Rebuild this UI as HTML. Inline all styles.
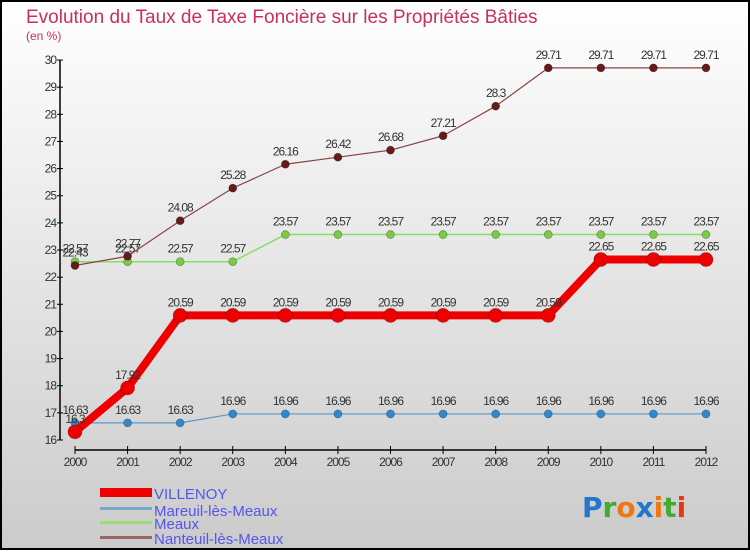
<!DOCTYPE html>
<html><head><meta charset="utf-8"><style>
body{margin:0;width:750px;height:550px;overflow:hidden;font-family:"Liberation Sans",sans-serif}
</style></head><body>
<svg width="750" height="550" xmlns="http://www.w3.org/2000/svg">
<defs><linearGradient id="bg" x1="0" y1="0" x2="0" y2="1"><stop offset="0" stop-color="#ffffff"/><stop offset="1" stop-color="#cbcbcb"/></linearGradient></defs>
<rect x="1" y="1" width="748" height="548" fill="url(#bg)" stroke="#000" stroke-width="2"/>
<text x="26" y="23" font-size="19" fill="#c8305a">Evolution du Taux de Taxe Foncière sur les Propriétés Bâties</text>
<text x="26" y="40" font-size="12" fill="#c8305a">(en %)</text>
<g id="axes"></g>
<g id="series"></g>
<g>
<rect x="100" y="488" width="52" height="9" fill="#ee0000"/>
<text x="154" y="499" font-size="15" fill="#5555ee">VILLENOY</text>
<rect x="100" y="507" width="52" height="3" fill="#7aa8cc"/>
<text x="154" y="516" font-size="15" fill="#5555ee">Mareuil-lès-Meaux</text>
<rect x="100" y="521" width="52" height="3" fill="#99dd77"/>
<text x="154" y="529" font-size="15" fill="#5555ee">Meaux</text>
<rect x="100" y="536" width="52" height="3" fill="#996666"/>
<text x="154" y="544" font-size="15" fill="#5555ee">Nanteuil-lès-Meaux</text>
</g>
<g font-size="28" font-weight="bold" font-family="'DejaVu Sans',sans-serif">
<text x="582" y="517"><tspan fill="#2277cc">P</tspan><tspan fill="#44aa33">r</tspan><tspan fill="#ee7711">o</tspan><tspan fill="#2277cc">x</tspan><tspan fill="#ee7711">i</tspan><tspan fill="#44aa33">t</tspan><tspan fill="#ee3311">i</tspan></text>
</g>
</svg>
<script>
const years=[2000,2001,2002,2003,2004,2005,2006,2007,2008,2009,2010,2011,2012];
const villenoy=[16.3,17.92,20.59,20.59,20.59,20.59,20.59,20.59,20.59,20.59,22.65,22.65,22.65];
const mareuil=[16.63,16.63,16.63,16.96,16.96,16.96,16.96,16.96,16.96,16.96,16.96,16.96,16.96];
const meaux=[22.57,22.57,22.57,22.57,23.57,23.57,23.57,23.57,23.57,23.57,23.57,23.57,23.57];
const nanteuil=[22.43,22.77,24.08,25.28,26.16,26.42,26.68,27.21,28.3,29.71,29.71,29.71,29.71];
const yTicks=[16,17,18,19,20,21,22,23,24,25,26,27,28,29,30];
const NS="http://www.w3.org/2000/svg";
const X=i=>75+i*(631/12);
const Y=v=>440-(v-16)*27.14;
function mk(t,a,p){const e=document.createElementNS(NS,t);for(const k in a)e.setAttribute(k,a[k]);p.appendChild(e);return e;}
const ax=document.getElementById('axes');
let l=mk('line',{x1:60,y1:Y(30),x2:60,y2:Y(16),stroke:'#000','stroke-width':1.5},ax);


yTicks.forEach(v=>{
  let t=mk('line',{x1:57,x2:63,y1:Y(v),y2:Y(v),stroke:'#000'},ax);
  
  
  if(v<30){let m=mk('line',{x1:59,x2:61,y1:Y(v+0.5),y2:Y(v+0.5),stroke:'#e00'},ax);
  
  }
  let tx=mk('text',{x:56,y:Y(v)+4,'font-size':12,'text-anchor':'end',fill:'#333','letter-spacing':'-1'},ax);
  tx.textContent=v;
  
  
});
l=mk('line',{x1:X(0),y1:450,x2:X(12),y2:450,stroke:'#000','stroke-width':1.5},ax);


years.forEach((y,i)=>{
  let t=mk('line',{x1:X(i),x2:X(i),y1:446,y2:454,stroke:'#000'},ax);
  
  
  let tx=mk('text',{x:X(i),y:466,'font-size':12,'text-anchor':'middle',fill:'#333','letter-spacing':'-1'},ax);
  tx.textContent=y;
  
  
});
const sg=document.getElementById('series');
function series(name,data,color,w,r,dot){
  const g=mk('g',{},sg);
  
  
  const pl=mk('polyline',{points:data.map((v,i)=>X(i)+','+Y(v)).join(' '),fill:'none',stroke:color,'stroke-width':w,'stroke-linejoin':'round'},g);
  
  
  data.forEach((v,i)=>{
    const c=mk('circle',{cx:X(i),cy:Y(v),r:r,fill:dot,stroke:'rgba(0,0,0,0.3)','stroke-width':0.8},g);
    
    
    const t=mk('text',{x:X(i),y:Y(v)-9,'font-size':12,'text-anchor':'middle',fill:'#333','letter-spacing':'-1'},g);
    t.textContent=v;
    
    
  });
}
series('mareuil',mareuil,'#5599cc',1.2,4,'#3388cc');
series('meaux',meaux,'#88dd66',1.5,4,'#77cc44');
series('nanteuil',nanteuil,'#884444',1.2,4,'#661a1a');
series('villenoy',villenoy,'#ee0000',8,7,'#ee0000');
</script>
</body></html>
